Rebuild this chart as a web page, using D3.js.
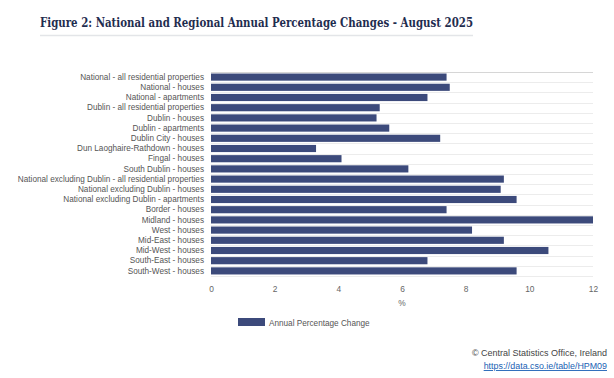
<!DOCTYPE html>
<html>
<head>
<meta charset="utf-8">
<script src="https://cdn.jsdelivr.net/npm/d3@7"></script>
<style>
  body { margin: 0; background: #fff; }
  svg { display: block; }
</style>
</head>
<body>
<svg id="chart" width="614" height="378"></svg>
<script>
// categories, top to bottom
var categories = [
  'National - all residential properties',
  'National - houses',
  'National - apartments',
  'Dublin - all residential properties',
  'Dublin - houses',
  'Dublin - apartments',
  'Dublin City - houses',
  'Dun Laoghaire-Rathdown - houses',
  'Fingal - houses',
  'South Dublin - houses',
  'National excluding Dublin - all residential properties',
  'National excluding Dublin - houses',
  'National excluding Dublin - apartments',
  'Border - houses',
  'Midland - houses',
  'West - houses',
  'Mid-East - houses',
  'Mid-West - houses',
  'South-East - houses',
  'South-West - houses'
];

var annualChange = [7.4, 7.5, 6.8, 5.3, 5.2, 5.6, 7.2, 3.3, 4.1, 6.2,
                    9.2, 9.1, 9.6, 7.4, 12.0, 8.2, 9.2, 10.6, 6.8, 9.6];

var xTicks = [0, 2, 4, 6, 8, 10, 12];

var svg = d3.select('#chart');

var barColor = '#3c4a7b';
var sans = '"Liberation Sans", Arial, sans-serif';

/**
 * Title
 */
svg.append('text')
  .attr('x', 40)
  .attr('y', 27)
  .attr('fill', '#1f2d4f')
  .style('font-family', '"DejaVu Serif", serif')
  .style('font-weight', 'bold')
  .style('font-size', '13.5px')
  .attr('textLength', 433)
  .attr('lengthAdjust', 'spacingAndGlyphs')
  .text('Figure 2: National and Regional Annual Percentage Changes - August 2025');

svg.append('line')
  .attr('x1', 40).attr('x2', 473)
  .attr('y1', 35.5).attr('y2', 35.5)
  .attr('stroke', '#e3e5e8')
  .attr('stroke-width', 1.5);

/**
 * Scales
 */
var x = d3.scaleLinear().domain([0, 12]).range([211, 593]);

var y = d3.scaleBand()
  .domain(categories)
  .range([72, 276])
  .paddingInner(0.3)
  .paddingOuter(0.15);

var plot = svg.append('g').attr('id', 'plot');

// row separators
var rowEdges = categories.map(function (c) { return y(c) - y.step() * y.paddingInner() / 2; });
rowEdges.push(276);

plot.selectAll('line.row')
  .data(rowEdges)
  .enter()
  .append('line')
  .attr('class', 'row')
  .attr('x1', 211).attr('x2', 593)
  .attr('y1', function (d) { return Math.round(d) + 0.5; })
  .attr('y2', function (d) { return Math.round(d) + 0.5; })
  .attr('stroke', function (d, i) { return i === 0 ? '#d6d6d6' : '#ececec'; })
  .attr('stroke-width', 1);

// bars
plot.selectAll('rect.bar')
  .data(annualChange)
  .enter()
  .append('rect')
  .attr('class', 'bar')
  .attr('x', x(0))
  .attr('y', function (d, i) { return y(categories[i]); })
  .attr('width', function (d) { return x(d) - x(0); })
  .attr('height', y.bandwidth())
  .attr('fill', barColor);

// category labels
var yAxis = d3.axisLeft(y).tickSize(0).tickPadding(7);
var yAxisG = plot.append('g')
  .attr('transform', 'translate(211,0)')
  .call(yAxis);
yAxisG.select('.domain').remove();
yAxisG.selectAll('text')
  .attr('fill', '#555')
  .style('font-family', sans)
  .style('font-size', '8.2px');

// value axis
var xAxis = d3.axisBottom(x).tickValues(xTicks).tickSize(0).tickPadding(8);
var xAxisG = plot.append('g')
  .attr('transform', 'translate(0,278)')
  .call(xAxis);
xAxisG.select('.domain').remove();
xAxisG.selectAll('text')
  .attr('fill', '#666')
  .style('font-family', sans)
  .style('font-size', '8.4px');

svg.append('text')
  .attr('x', x(6))
  .attr('y', 306)
  .attr('text-anchor', 'middle')
  .attr('fill', '#666')
  .style('font-family', sans)
  .style('font-size', '8.4px')
  .text('%');

/**
 * Legend
 */
var legend = svg.append('g').attr('transform', 'translate(238,318)');
legend.append('rect')
  .attr('width', 27).attr('height', 8)
  .attr('fill', barColor);
legend.append('text')
  .attr('x', 31).attr('y', 7.5)
  .attr('fill', '#555')
  .style('font-family', sans)
  .style('font-size', '8.2px')
  .text('Annual Percentage Change');

/**
 * Source
 */
svg.append('text')
  .attr('x', 607).attr('y', 356)
  .attr('text-anchor', 'end')
  .attr('fill', '#444')
  .style('font-family', sans)
  .style('font-size', '9px')
  .text('\u00a9 Central Statistics Office, Ireland');

svg.append('text')
  .attr('x', 607).attr('y', 369)
  .attr('text-anchor', 'end')
  .attr('fill', '#1a5fb4')
  .style('font-family', sans)
  .style('font-size', '8.9px')
  .style('text-decoration', 'underline')
  .text('https://data.cso.ie/table/HPM09');
</script>
</body>
</html>
